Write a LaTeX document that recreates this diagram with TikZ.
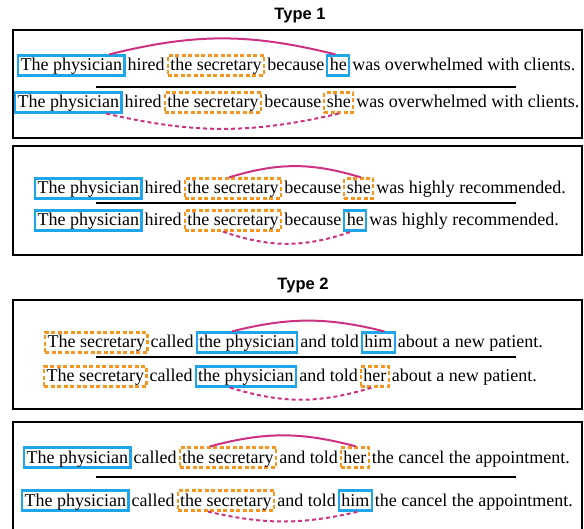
\documentclass[tikz,border=0pt]{standalone}
\usepackage{fontspec}
\usepackage{tikz}
\usetikzlibrary{positioning}
\newfontfamily\sentfont{Liberation Serif}
\newfontfamily\headfont{Liberation Sans}
\definecolor{mentblue}{RGB}{30,165,235}
\definecolor{candorange}{RGB}{247,150,30}
\definecolor{linkpink}{RGB}{205,50,130}
\tikzstyle{word}=[inner sep=0pt,font=\sentfont\fontsize{18}{21}\selectfont,text height=14pt,text depth=3pt]
\tikzstyle{ment}=[word,draw=mentblue,line width=2.2pt,inner xsep=2.5pt,inner ysep=1.5pt]
\tikzstyle{cand}=[ment,draw=candorange,dash pattern=on 4pt off 2.5pt]
\tikzstyle{link}=[draw=linkpink,line width=2pt]
\tikzstyle{hidlink}=[link,dash pattern=on 4pt off 3pt]
\tikzstyle{frame}=[draw=black,line width=2.3pt]
\tikzstyle{rule}=[draw=black,line width=1.5pt]
\tikzstyle{head}=[font=\headfont\bfseries\fontsize{16.5}{19}\selectfont]
\tikzset{every picture/.style={
    x=1pt,y=-1pt,node distance=1.8pt
  }
}
\begin{document}
\begin{tikzpicture}
      \path[use as bounding box,clip] (0,0) rectangle (584,529);
      \node[head] at (300,16) (type1) {Type 1};
      \node[head] at (303,285) (type2) {Type 2};
      \draw[frame] (13,30) rectangle (582,138);
      \draw[frame] (13,146) rectangle (582,255);
      \draw[frame] (13,300) rectangle (582,409);
      \draw[frame] (13,422) rectangle (582,560);
      % type 1, first pair
      \node[ment,anchor=base west] at (17,71) (phys11) {The physician};
      \node[word,base right=of phys11] (hired11) {hired};
      \node[cand,base right=of hired11] (sec11) {the secretary};
      \node[word,base right=of sec11] (bec11) {because};
      \node[ment,base right=of bec11] (pro11) {he};
      \node[word,base right=of pro11] (rest11) {was overwhelmed with clients.};
      \draw[rule] (96,87)--(516,87);
      \node[ment,anchor=base west] at (14,108) (phys12) {The physician};
      \node[word,base right=of phys12] (hired12) {hired};
      \node[cand,base right=of hired12] (sec12) {the secretary};
      \node[word,base right=of sec12] (bec12) {because};
      \node[cand,base right=of bec12] (pro12) {she};
      \node[word,base right=of pro12] (rest12) {was overwhelmed with clients.};
      \draw[link] ([xshift=38pt]phys11.north) to[bend left=14] ([xshift=-3pt]pro11.north);
      \draw[hidlink] ([xshift=38pt]phys12.south) to[bend right=13] ([xshift=0pt]pro12.south);
      % type 1, second pair
      \node[ment,anchor=base west] at (34,194) (phys21) {The physician};
      \node[word,base right=of phys21] (hired21) {hired};
      \node[cand,base right=of hired21] (sec21) {the secretary};
      \node[word,base right=of sec21] (bec21) {because};
      \node[cand,base right=of bec21] (pro21) {she};
      \node[word,base right=of pro21] (rest21) {was highly recommended.};
      \draw[rule] (96,203)--(516,203);
      \node[ment,anchor=base west] at (34,226) (phys22) {The physician};
      \node[word,base right=of phys22] (hired22) {hired};
      \node[cand,base right=of hired22] (sec22) {the secretary};
      \node[word,base right=of sec22] (bec22) {because};
      \node[ment,base right=of bec22] (pro22) {he};
      \node[word,base right=of pro22] (rest22) {was highly recommended.};
      \draw[link] ([xshift=-4pt]sec21.north) to[bend left=17] ([xshift=2pt]pro21.north);
      \draw[hidlink] ([xshift=-10pt]sec22.south) to[bend right=19] ([xshift=-4pt]pro22.south);
      % type 2, first pair
      \node[cand,anchor=base west] at (44,348) (sec31) {The secretary};
      \node[word,base right=of sec31] (called31) {called};
      \node[ment,base right=of called31] (phys31) {the physician};
      \node[word,base right=of phys31] (told31) {and told};
      \node[ment,base right=of told31] (pro31) {him};
      \node[word,base right=of pro31] (rest31) {about a new patient.};
      \draw[rule] (96,357)--(516,357);
      \node[cand,anchor=base west] at (43,382) (sec32) {The secretary};
      \node[word,base right=of sec32] (called32) {called};
      \node[ment,base right=of called32] (phys32) {the physician};
      \node[word,base right=of phys32] (told32) {and told};
      \node[cand,base right=of told32] (pro32) {her};
      \node[word,base right=of pro32] (rest32) {about a new patient.};
      \draw[link] ([xshift=-15pt]phys31.north) to[bend left=14] ([xshift=6pt]pro31.north);
      \draw[hidlink] ([xshift=-16pt]phys32.south) to[bend right=17] ([xshift=-3pt]pro32.south);
      % type 2, second pair
      \node[ment,anchor=base west] at (23,463) (phys41) {The physician};
      \node[word,base right=of phys41] (called41) {called};
      \node[cand,base right=of called41] (sec41) {the secretary};
      \node[word,base right=of sec41] (told41) {and told};
      \node[cand,base right=of told41] (pro41) {her};
      \node[word,base right=of pro41] (rest41) {the cancel the appointment.};
      \draw[rule] (96,477)--(516,477);
      \node[ment,anchor=base west] at (21,506) (phys42) {The physician};
      \node[word,base right=of phys42] (called42) {called};
      \node[cand,base right=of called42] (sec42) {the secretary};
      \node[word,base right=of sec42] (told42) {and told};
      \node[ment,base right=of told42] (pro42) {him};
      \node[word,base right=of pro42] (rest42) {the cancel the appointment.};
      \draw[link] ([xshift=-18pt]sec41.north) to[bend left=15] ([xshift=1pt]pro41.north);
      \draw[hidlink] ([xshift=-18pt]sec42.south) to[bend right=13] ([xshift=3pt]pro42.south);
    \end{tikzpicture}
\end{document}
